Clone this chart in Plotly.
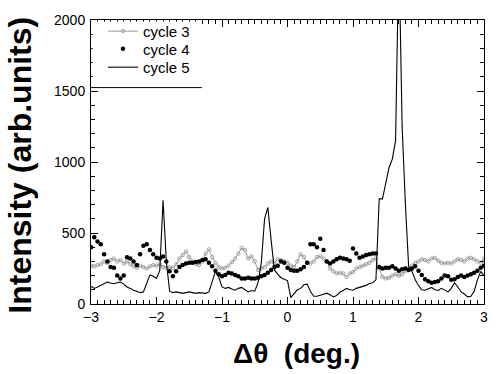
import numpy as np
import plotly.graph_objects as go

# sampling grid (deg.)
x_deg = np.round(np.arange(-3.0, 3.0 + 1e-9, 0.05), 2)

cycle3 = [
    270, 265, 275, 280, 300, 290, 310, 320, 300, 310,
    285, 300, 280, 265, 255, 270, 260, 250, 265, 275,
    270, 280, 260, 255, 260, 255, 280, 320, 345, 370,
    330, 300, 280, 275, 300, 355, 385, 330, 290, 260,
    250, 255, 270, 295, 320, 355, 395, 380, 320, 335,
    300, 240, 250, 260, 285, 300, 290, 315, 310, 300,
    290, 270, 260, 300, 350, 330, 290, 285, 300, 330,
    335, 320, 300, 250, 230, 215, 220, 215, 190, 215,
    225, 250, 260, 270, 280, 290, 310, 320, 250, 190,
    180, 185, 200, 210, 200, 210, 230, 250, 270, 290,
    300, 315, 310, 300, 320, 325, 305, 290, 285, 290,
    285, 300, 315, 310, 300, 320, 325, 315, 300, 290,
    320,
]

cycle4 = [
    400, 470, 440, 420, 350, 300, 260, 255, 200, 180,
    200, 330, 320, 300, 275, 350, 410, 420, 380, 350,
    325, 320, 335, 300, 230, 195, 230, 260, 275, 285,
    290, 290, 295, 300, 310, 315, 290, 265, 235, 210,
    195, 205, 220, 215, 205, 195, 180, 180, 185, 180,
    180, 185, 195, 205, 220, 240, 260, 270, 300, 290,
    255, 240, 235, 235, 245, 260, 290, 420, 420, 400,
    460, 380, 300, 285, 300, 315, 325, 320, 315, 305,
    390, 355, 325, 335, 345, 350, 355, 355, 260, 250,
    255, 255, 265, 250, 235, 245, 250, 240, 250, 265,
    235, 205, 175, 160, 150, 155, 160, 180, 200, 195,
    170, 175, 190, 200, 190, 200, 210, 220, 235, 255,
    270,
]

cycle5 = [
    125, 110, 120, 131, 140, 154, 148, 143, 150, 154,
    140, 120, 110, 97, 90, 80, 85, 140, 205, 195,
    180, 235, 730, 300, 90, 80, 85, 80, 75, 80,
    85, 80, 75, 80, 78, 75, 85, 150, 230, 190,
    120, 110, 117, 105, 97, 110, 117, 100, 85, 95,
    90, 150, 290, 600, 680, 450, 240, 210, 185, 175,
    165, 45, 75, 100, 110, 135, 140, 90, 55, 55,
    62, 70, 76, 65, 50, 60, 83, 95, 110, 100,
    97, 110, 117, 125, 131, 145, 150, 170, 740, 740,
    850, 960, 1020, 1150, 2500, 1250, 700, 260, 230, 170,
    130, 100, 97, 105, 117, 100, 95, 110, 95, 85,
    110, 150, 120, 85, 70, 50, 55, 90, 170, 230,
    200,
]

x_ticks = [-3, -2, -1, 0, 1, 2, 3]
y_ticks = [0, 500, 1000, 1500, 2000]

FONT = "Arial, 'Liberation Sans', sans-serif"

fig = go.Figure()
fig.add_trace(go.Scatter(
    x=x_deg, y=cycle3, mode="lines+markers", name="cycle 3", legend="legend",
    line=dict(color="#808080", width=0.8),
    marker=dict(symbol="circle-open", size=3.5, color="#909090", line=dict(width=0.8)),
))
fig.add_trace(go.Scatter(
    x=x_deg, y=cycle4, mode="markers", name="cycle 4", legend="legend2",
    marker=dict(symbol="circle", size=4.5, color="black"),
))
fig.add_trace(go.Scatter(
    x=x_deg, y=cycle5, mode="lines", name="cycle 5", legend="legend3",
    line=dict(color="black", width=1.1),
))

axis_common = dict(
    showline=True, linecolor="black", linewidth=1, mirror="ticks",
    ticks="inside", ticklen=7, tickwidth=1, tickcolor="black",
    showgrid=False, zeroline=False,
    tickfont=dict(family=FONT, size=14, color="black"),
)

fig.update_xaxes(
    range=[-3, 3], tickmode="array", tickvals=x_ticks,
    minor=dict(dtick=0.1, tick0=-3, ticks="inside", ticklen=4, tickcolor="black", showgrid=False),
    **axis_common,
)
fig.update_yaxes(
    range=[0, 2000], tickmode="array", tickvals=y_ticks, ticklabelstandoff=2,
    minor=dict(dtick=100, tick0=0, ticks="inside", ticklen=4, tickcolor="black", showgrid=False),
    **axis_common,
)

leg_common = dict(
    x=0.0305, xanchor="left", yanchor="middle",
    bgcolor="rgba(0,0,0,0)", borderwidth=0,
    font=dict(family=FONT, size=15, color="black"),
    itemwidth=30,
)

fig.update_layout(
    width=500, height=374,
    margin=dict(l=91, r=16, t=14, b=70),
    plot_bgcolor="white", paper_bgcolor="white",
    font=dict(family=FONT, color="black"),
    showlegend=True,
    legend=dict(y=0.960, **leg_common),
    legend2=dict(y=0.898, **leg_common),
    legend3=dict(y=0.833, **leg_common),
    shapes=[
        dict(type="rect", xref="paper", yref="paper", x0=0.004, x1=0.282, y0=0.762, y1=0.995,
             fillcolor="white", line=dict(width=0), layer="above"),
        dict(type="line", xref="paper", yref="paper", x0=0, x1=0.282, y0=0.762, y1=0.762,
             line=dict(color="black", width=1), layer="above"),
    ],
    annotations=[
        dict(text="<b>Intensity (arb.units)</b>", xref="paper", yref="paper",
             x=-0.181, y=0.49, xanchor="center", yanchor="middle", textangle=-90,
             showarrow=False, font=dict(family=FONT, size=32, color="black")),
        dict(text="<b>Δθ  (deg.)</b>", xref="paper", yref="paper",
             x=0.524, y=-0.176, xanchor="center", yanchor="middle",
             showarrow=False, font=dict(family=FONT, size=28, color="black")),
    ],
)

fig.write_html("out.html", config={"displayModeBar": False},
               post_script="document.body.style.margin='0px';")
